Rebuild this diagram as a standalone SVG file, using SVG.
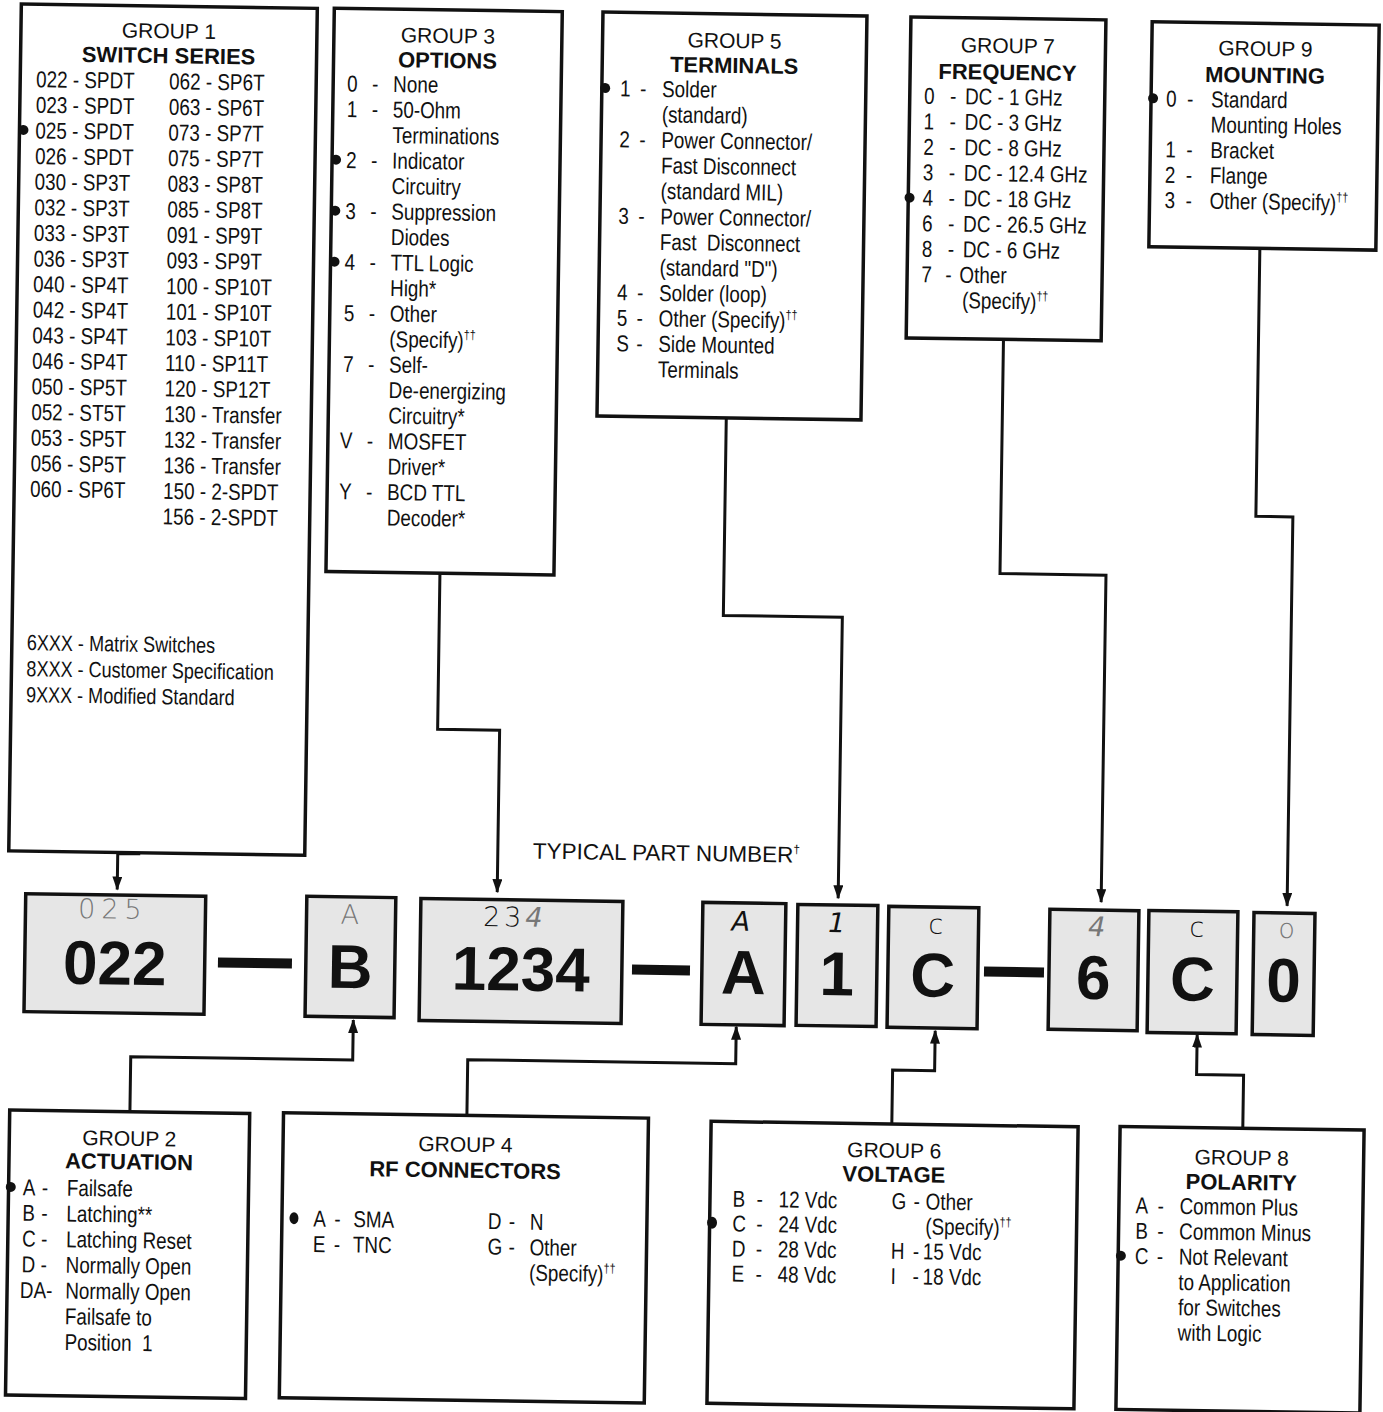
<svg xmlns="http://www.w3.org/2000/svg" width="1383" height="1412" viewBox="0 0 1383 1412">
<defs>
<style>
.box{fill:#fff;stroke:#111;stroke-width:3.5}
.pn{fill:#e6e6e6;stroke:#111;stroke-width:3.5}
.t{font-family:'Liberation Sans',Arial,sans-serif;font-size:23px;fill:#111}
.s{font-family:'Liberation Sans',Arial,sans-serif;font-size:22px;fill:#111}
.g{font-family:'Liberation Sans',Arial,sans-serif;font-size:21px;fill:#111;text-anchor:middle}
.h{font-family:'Liberation Sans',Arial,sans-serif;font-size:22px;font-weight:bold;fill:#111;text-anchor:middle}
.big{font-family:'Liberation Sans',Arial,sans-serif;font-size:62px;font-weight:bold;fill:#111;text-anchor:middle}
.hw{font-family:'DejaVu Sans',sans-serif;font-size:27px;font-weight:200;text-anchor:middle}
.hk{fill:#111}
.hg{fill:#777}
.cap{font-family:'Liberation Sans',Arial,sans-serif;font-size:22.5px;fill:#111}
.dot{fill:#111}
.conn{fill:none;stroke:#111;stroke-width:3}
.dash{fill:#111}
</style>
<marker id="arr" markerUnits="userSpaceOnUse" markerWidth="14" markerHeight="10" refX="13" refY="5" orient="auto">
<path d="M0,0 L14,5 L0,10 z" fill="#111"/>
</marker>
</defs>
<rect width="1383" height="1412" fill="#fff"/>
<g transform="rotate(0.85 691 706)">

<g id="connectors">
<path class="conn" d="M141,811 V862 H120 V898" marker-end="url(#arr)"/>
<path class="conn" d="M438,577 V733 H500 V895" marker-end="url(#arr)"/>
<path class="conn" d="M722,417 V615 H841 V896" marker-end="url(#arr)"/>
<path class="conn" d="M998,335 V569 H1104 V896" marker-end="url(#arr)"/>
<path class="conn" d="M1253,240 V508 H1290 V897" marker-end="url(#arr)"/>
<path class="conn" d="M136,1120 V1065 H358 V1025" marker-end="url(#arr)"/>
<path class="conn" d="M473,1119 V1063 H741 V1026" marker-end="url(#arr)"/>
<path class="conn" d="M898,1121 V1067 H940 V1027" marker-end="url(#arr)"/>
<path class="conn" d="M1249,1120 V1067 H1202 V1027" marker-end="url(#arr)"/>
</g>

<g id="group1">
<rect class="box" x="11" y="14" width="296" height="847"/>
<text class="g" x="159" y="46">GROUP 1</text>
<text class="h" x="159" y="71">SWITCH SERIES</text>
<circle class="dot" cx="15" cy="140" r="5"/>
<g class="t" transform="translate(11 0) scale(0.82 1)">
<text x="19.5" y="97">022 - SPDT</text>
<text x="19.5" y="122.6">023 - SPDT</text>
<text x="19.5" y="148.2">025 - SPDT</text>
<text x="19.5" y="173.8">026 - SPDT</text>
<text x="19.5" y="199.4">030 - SP3T</text>
<text x="19.5" y="225">032 - SP3T</text>
<text x="19.5" y="250.6">033 - SP3T</text>
<text x="19.5" y="276.2">036 - SP3T</text>
<text x="19.5" y="301.8">040 - SP4T</text>
<text x="19.5" y="327.4">042 - SP4T</text>
<text x="19.5" y="353">043 - SP4T</text>
<text x="19.5" y="378.6">046 - SP4T</text>
<text x="19.5" y="404.2">050 - SP5T</text>
<text x="19.5" y="429.8">052 - ST5T</text>
<text x="19.5" y="455.4">053 - SP5T</text>
<text x="19.5" y="481">056 - SP5T</text>
<text x="19.5" y="506.6">060 - SP6T</text>
<text x="181.7" y="97">062 - SP6T</text>
<text x="181.7" y="122.6">063 - SP6T</text>
<text x="181.7" y="148.2">073 - SP7T</text>
<text x="181.7" y="173.8">075 - SP7T</text>
<text x="181.7" y="199.4">083 - SP8T</text>
<text x="181.7" y="225">085 - SP8T</text>
<text x="181.7" y="250.6">091 - SP9T</text>
<text x="181.7" y="276.2">093 - SP9T</text>
<text x="181.7" y="301.8">100 - SP10T</text>
<text x="181.7" y="327.4">101 - SP10T</text>
<text x="181.7" y="353">103 - SP10T</text>
<text x="181.7" y="378.6">110 - SP11T</text>
<text x="181.7" y="404.2">120 - SP12T</text>
<text x="181.7" y="429.8">130 - Transfer</text>
<text x="181.7" y="455.4">132 - Transfer</text>
<text x="181.7" y="481">136 - Transfer</text>
<text x="181.7" y="506.6">150 - 2-SPDT</text>
<text x="181.7" y="532.2">156 - 2-SPDT</text>
</g>
<g class="s" transform="translate(11 0) scale(0.82 1)">
<text x="18.3" y="660">6XXX - Matrix Switches</text>
<text x="18.3" y="686">8XXX - Customer Specification</text>
<text x="18.3" y="712">9XXX - Modified Standard</text>
</g>
</g>

<g id="group3">
<rect class="box" x="324" y="13.6" width="228" height="563.4"/>
<text class="g" x="438" y="46.6">GROUP 3</text>
<text class="h" x="438" y="71.6">OPTIONS</text>
<circle class="dot" cx="328" cy="165" r="5"/>
<circle class="dot" cx="328" cy="216" r="5"/>
<circle class="dot" cx="328" cy="267" r="5"/>
<g class="t" transform="translate(324 0) scale(0.82 1)">
<text y="96.6"><tspan x="17.07">0</tspan><tspan x="47.56">-</tspan><tspan x="73.17">None</tspan></text>
<text y="122.1"><tspan x="17.07">1</tspan><tspan x="47.56">-</tspan><tspan x="73.17">50-Ohm</tspan></text>
<text x="73.17" y="147.6">Terminations</text>
<text y="173.1"><tspan x="17.07">2</tspan><tspan x="47.56">-</tspan><tspan x="73.17">Indicator</tspan></text>
<text x="73.17" y="198.6">Circuitry</text>
<text y="224.1"><tspan x="17.07">3</tspan><tspan x="47.56">-</tspan><tspan x="73.17">Suppression</tspan></text>
<text x="73.17" y="249.6">Diodes</text>
<text y="275.1"><tspan x="17.07">4</tspan><tspan x="47.56">-</tspan><tspan x="73.17">TTL Logic</tspan></text>
<text x="73.17" y="300.6">High*</text>
<text y="326.1"><tspan x="17.07">5</tspan><tspan x="47.56">-</tspan><tspan x="73.17">Other</tspan></text>
<text x="73.17" y="351.6">(Specify)<tspan font-size="13" dy="-9">††</tspan></text>
<text y="377.1"><tspan x="17.07">7</tspan><tspan x="47.56">-</tspan><tspan x="73.17">Self-</tspan></text>
<text x="73.17" y="402.6">De-energizing</text>
<text x="73.17" y="428.1">Circuitry*</text>
<text y="453.6"><tspan x="14.63">V</tspan><tspan x="47.56">-</tspan><tspan x="73.17">MOSFET</tspan></text>
<text x="73.17" y="479.1">Driver*</text>
<text y="504.6"><tspan x="14.63">Y</tspan><tspan x="47.56">-</tspan><tspan x="73.17">BCD TTL</tspan></text>
<text x="73.17" y="530.1">Decoder*</text>
</g>
</g>

<g id="group5">
<rect class="box" x="592.7" y="13.4" width="264" height="404"/>
<text class="g" x="724.7" y="47.4">GROUP 5</text>
<text class="h" x="724.7" y="72.4">TERMINALS</text>
<circle class="dot" cx="596" cy="89.4" r="5"/>
<g class="t" transform="translate(592.7 0) scale(0.82 1)">
<text y="97.4"><tspan x="22.32">1</tspan><tspan x="46.71">-</tspan><tspan x="73.54">Solder</tspan></text>
<text x="73.54" y="122.9">(standard)</text>
<text y="148.4"><tspan x="22.32">2</tspan><tspan x="46.71">-</tspan><tspan x="73.54">Power Connector/</tspan></text>
<text x="73.54" y="173.9">Fast Disconnect</text>
<text x="73.54" y="199.4">(standard MIL)</text>
<text y="224.9"><tspan x="22.32">3</tspan><tspan x="46.71">-</tspan><tspan x="73.54">Power Connector/</tspan></text>
<text x="73.54" y="250.4" xml:space="preserve">Fast  Disconnect</text>
<text x="73.54" y="275.9">(standard "D")</text>
<text y="301.4"><tspan x="22.32">4</tspan><tspan x="46.71">-</tspan><tspan x="73.54">Solder (loop)</tspan></text>
<text y="326.9"><tspan x="22.32">5</tspan><tspan x="46.71">-</tspan><tspan x="73.54">Other (Specify)</tspan><tspan font-size="13" dy="-9">††</tspan></text>
<text y="352.4"><tspan x="22.32">S</tspan><tspan x="46.71">-</tspan><tspan x="73.54">Side Mounted</tspan></text>
<text x="73.54" y="377.9">Terminals</text>
</g>
</g>

<g id="group7">
<rect class="box" x="900.7" y="13.8" width="195" height="321"/>
<text class="g" x="998" y="48.3">GROUP 7</text>
<text class="h" x="998" y="75.3">FREQUENCY</text>
<circle class="dot" cx="902" cy="194.5" r="5"/>
<g class="t" transform="translate(900.7 0) scale(0.82 1)">
<text y="100.3"><tspan x="17.44">0</tspan><tspan x="49.15">-</tspan><tspan x="67.44">DC - 1 GHz</tspan></text>
<text y="125.8"><tspan x="17.44">1</tspan><tspan x="49.15">-</tspan><tspan x="67.44">DC - 3 GHz</tspan></text>
<text y="151.3"><tspan x="17.44">2</tspan><tspan x="49.15">-</tspan><tspan x="67.44">DC - 8 GHz</tspan></text>
<text y="176.8"><tspan x="17.44">3</tspan><tspan x="49.15">-</tspan><tspan x="67.44">DC - 12.4 GHz</tspan></text>
<text y="202.3"><tspan x="17.44">4</tspan><tspan x="49.15">-</tspan><tspan x="67.44">DC - 18 GHz</tspan></text>
<text y="227.8"><tspan x="17.44">6</tspan><tspan x="49.15">-</tspan><tspan x="67.44">DC - 26.5 GHz</tspan></text>
<text y="253.3"><tspan x="17.44">8</tspan><tspan x="49.15">-</tspan><tspan x="67.44">DC - 6 GHz</tspan></text>
<text y="278.8"><tspan x="17.44">7</tspan><tspan x="46.71">-</tspan><tspan x="63.78">Other</tspan></text>
<text x="67.44" y="304.3">(Specify)<tspan font-size="13" dy="-9">††</tspan></text>
</g>
</g>

<g id="group9">
<rect class="box" x="1142" y="15" width="227" height="225"/>
<text class="g" x="1255.6" y="47.5">GROUP 9</text>
<text class="h" x="1255.6" y="74.5">MOUNTING</text>
<circle class="dot" cx="1144" cy="91.5" r="5"/>
<g class="t" transform="translate(1142 0) scale(0.82 1)">
<text y="99.5"><tspan x="18.29">0</tspan><tspan x="43.9">-</tspan><tspan x="73.17">Standard</tspan></text>
<text x="73.17" y="124.9">Mounting Holes</text>
<text y="150.3"><tspan x="18.29">1</tspan><tspan x="43.9">-</tspan><tspan x="73.17">Bracket</tspan></text>
<text y="175.7"><tspan x="18.29">2</tspan><tspan x="43.9">-</tspan><tspan x="73.17">Flange</tspan></text>
<text y="201.1"><tspan x="18.29">3</tspan><tspan x="43.9">-</tspan><tspan x="73.17">Other (Specify)</tspan><tspan font-size="13" dy="-9">††</tspan></text>
</g>
</g>

<g id="caption">
<text class="cap" x="535" y="861">TYPICAL PART NUMBER<tspan font-size="12" dy="-9">†</tspan></text>
</g>

<g id="partnumber">
<rect class="pn" x="28.6" y="903.5" width="180" height="118"/>
<text class="big" x="118.6" y="993">022</text>
<text class="hw hg" x="116" y="927" letter-spacing="6">025</text>
<rect class="dash" x="221.8" y="964.5" width="74" height="10"/>
<rect class="pn" x="309.7" y="902" width="89" height="120"/>
<text class="big" x="354.2" y="993">B</text>
<text class="hw hg" x="353" y="929">A</text>
<rect class="pn" x="423.8" y="902.5" width="202" height="122"/>
<text class="big" x="524.8" y="993">1234</text>
<text class="hw" x="518" y="929" letter-spacing="4"><tspan class="hk">23</tspan><tspan class="hg" font-style="italic">4</tspan></text>
<rect class="dash" x="635.9" y="965.4" width="58" height="10"/>
<rect class="pn" x="705.8" y="902.2" width="83" height="122"/>
<text class="big" x="747.3" y="993">A</text>
<text class="hw hk" x="744" y="930" font-style="italic">A</text>
<rect class="pn" x="800.8" y="902.8" width="80" height="121"/>
<text class="big" x="840.8" y="993">1</text>
<text class="hw hk" x="840" y="930" font-style="italic">1</text>
<rect class="pn" x="891.8" y="903.4" width="90" height="121"/>
<text class="big" x="936.8" y="993">C</text>
<text class="hw hk" x="939" y="930">c</text>
<rect class="dash" x="987.9" y="962.2" width="60" height="10"/>
<rect class="pn" x="1052.9" y="904" width="89" height="120"/>
<text class="big" x="1097.4" y="993">6</text>
<text class="hw hg" x="1100" y="930" font-style="italic">4</text>
<rect class="pn" x="1151.9" y="903.6" width="89" height="122"/>
<text class="big" x="1196.4" y="993">C</text>
<text class="hw hk" x="1200" y="929">c</text>
<rect class="pn" x="1257" y="904.2" width="61" height="122"/>
<text class="big" x="1287.5" y="993">0</text>
<text class="hw hg" x="1290" y="929">o</text>
</g>

<g id="group2">
<rect class="box" x="15.8" y="1120" width="240" height="285"/>
<text class="g" x="135.8" y="1154">GROUP 2</text>
<text class="h" x="135.8" y="1177.5">ACTUATION</text>
<circle class="dot" cx="18" cy="1197" r="5"/>
<g class="t" transform="translate(15.8 0) scale(0.82 1)">
<text y="1205"><tspan x="17.32">A</tspan><tspan x="40.49">-</tspan><tspan x="70.98">Failsafe</tspan></text>
<text y="1230.7"><tspan x="17.32">B</tspan><tspan x="40.49">-</tspan><tspan x="70.98">Latching**</tspan></text>
<text y="1256.4"><tspan x="17.32">C</tspan><tspan x="40.49">-</tspan><tspan x="70.98">Latching Reset</tspan></text>
<text y="1282.1"><tspan x="17.32">D</tspan><tspan x="40.49">-</tspan><tspan x="70.98">Normally Open</tspan></text>
<text y="1307.8"><tspan x="15.73">DA-</tspan><tspan x="70.98">Normally Open</tspan></text>
<text x="70.98" y="1333.5">Failsafe to</text>
<text x="70.98" y="1359.2" xml:space="preserve">Position  1</text>
</g>
</g>

<g id="group4">
<rect class="box" x="289.6" y="1118.7" width="365" height="285"/>
<text class="g" x="472" y="1155">GROUP 4</text>
<text class="h" x="472" y="1181">RF CONNECTORS</text>
<ellipse class="dot" cx="301.6" cy="1224" rx="4.5" ry="6"/>
<g class="t" transform="translate(289.6 0) scale(0.82 1)">
<text y="1232"><tspan x="38.29">A</tspan><tspan x="63.9">-</tspan><tspan x="87.07">SMA</tspan><tspan x="251.2">D</tspan><tspan x="276.8">-</tspan><tspan x="302.4">N</tspan></text>
<text y="1257.5"><tspan x="38.29">E</tspan><tspan x="63.9">-</tspan><tspan x="87.07">TNC</tspan><tspan x="251.2">G</tspan><tspan x="276.8">-</tspan><tspan x="302.4">Other</tspan></text>
<text x="302.4" y="1283">(Specify)<tspan font-size="13" dy="-9">††</tspan></text>
</g>
</g>

<g id="group6">
<rect class="box" x="717.3" y="1121" width="367" height="282"/>
<text class="g" x="900.8" y="1154.7">GROUP 6</text>
<text class="h" x="900.8" y="1179">VOLTAGE</text>
<ellipse class="dot" cx="719.7" cy="1222.3" rx="5" ry="6"/>
<g class="t" transform="translate(717.3 0) scale(0.82 1)">
<text y="1206"><tspan x="27.68">B</tspan><tspan x="56.95">-</tspan><tspan x="83.78">12 Vdc</tspan><tspan x="221.6">G</tspan><tspan x="248.4">-</tspan><tspan x="263">Other</tspan></text>
<text y="1230.8"><tspan x="27.68">C</tspan><tspan x="56.95">-</tspan><tspan x="83.78">24 Vdc</tspan><tspan x="263">(Specify)</tspan><tspan font-size="13" dy="-9">††</tspan></text>
<text y="1255.8"><tspan x="27.68">D</tspan><tspan x="56.95">-</tspan><tspan x="83.78">28 Vdc</tspan><tspan x="221.6">H</tspan><tspan x="248.4">-</tspan><tspan x="260.6">15 Vdc</tspan></text>
<text y="1280.9"><tspan x="27.68">E</tspan><tspan x="56.95">-</tspan><tspan x="83.78">48 Vdc</tspan><tspan x="221.6">I</tspan><tspan x="248.4">-</tspan><tspan x="260.6">18 Vdc</tspan></text>
</g>
</g>

<g id="group8">
<rect class="box" x="1126.3" y="1120" width="244" height="283"/>
<text class="g" x="1248.3" y="1156.7">GROUP 8</text>
<text class="h" x="1248.3" y="1181.7">POLARITY</text>
<circle class="dot" cx="1129" cy="1249.3" r="5"/>
<g class="t" transform="translate(1126.3 0) scale(0.82 1)">
<text y="1206.7"><tspan x="20.37">A</tspan><tspan x="47.2">-</tspan><tspan x="73.98">Common Plus</tspan></text>
<text y="1232"><tspan x="20.37">B</tspan><tspan x="47.2">-</tspan><tspan x="73.98">Common Minus</tspan></text>
<text y="1257.3"><tspan x="20.37">C</tspan><tspan x="47.2">-</tspan><tspan x="73.98">Not Relevant</tspan></text>
<text x="73.98" y="1282.6">to Application</text>
<text x="73.98" y="1307.9">for Switches</text>
<text x="73.98" y="1333.2">with Logic</text>
</g>
</g>

</g>
</svg>
